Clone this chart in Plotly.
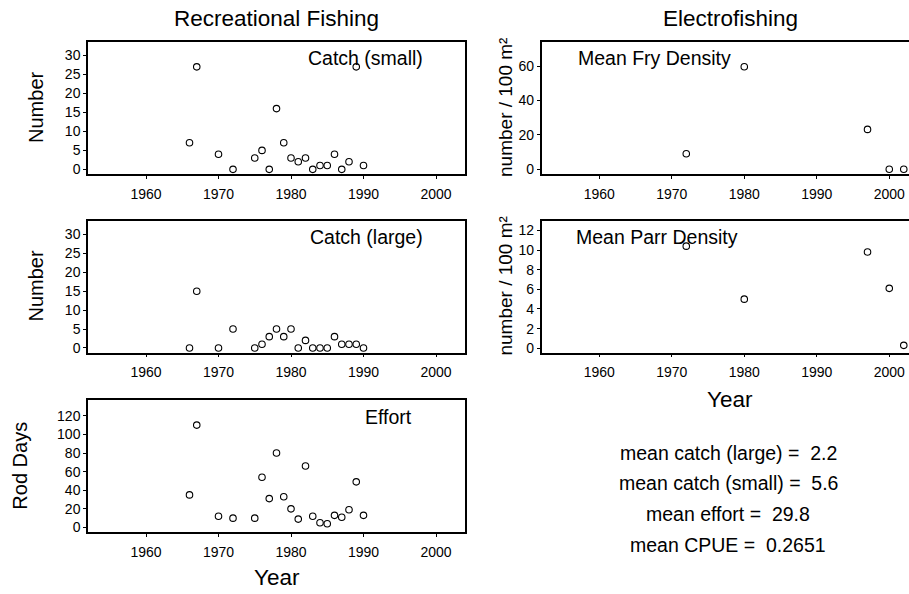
import plotly.graph_objects as go

# Recreational fishing records
years = [1966, 1967, 1970, 1972, 1975, 1976, 1977, 1978, 1979, 1980,
         1981, 1982, 1983, 1984, 1985, 1986, 1987, 1988, 1989, 1990]
catch_small = [7, 27, 4, 0, 3, 5, 0, 16, 7, 3, 2, 3, 0, 1, 1, 4, 0, 2, 27, 1]
catch_large = [0, 15, 0, 5, 0, 1, 3, 5, 3, 5, 0, 2, 0, 0, 0, 3, 1, 1, 1, 0]
effort = [35, 110, 12, 10, 10, 54, 31, 80, 33, 20, 9, 66, 12, 5, 4, 13, 11, 19, 49, 13]

# Electrofishing surveys
ef_years = [1972, 1980, 1997, 2000, 2002]
fry_density = [9.0, 59.7, 23.2, 0.0, 0.0]
parr_density = [10.4, 5.0, 9.8, 6.1, 0.3]

# Summary statistics
summary_lines = [
    "mean catch (large) =  2.2",
    "mean catch (small) =  5.6",
    "mean effort =  29.8",
    "mean CPUE =  0.2651",
]

year_ticks = [1960, 1970, 1980, 1990, 2000]

W, H = 909, 594
FONT = "Liberation Sans, Arial, sans-serif"


def px(x):
    return x / W


def py(y):
    return 1 - y / H


fig = go.Figure()

panels = [
    # (x, y, xaxis, yaxis)
    (years, catch_small, "x", "y"),
    (years, catch_large, "x2", "y2"),
    (years, effort, "x3", "y3"),
    (ef_years, fry_density, "x4", "y4"),
    (ef_years, parr_density, "x5", "y5"),
]
for xs, ys, xa, ya in panels:
    fig.add_trace(go.Scatter(
        x=xs, y=ys, xaxis=xa, yaxis=ya, mode="markers",
        marker=dict(symbol="circle-open", size=6.5, color="black",
                    line=dict(width=1.1, color="black")),
        showlegend=False, hoverinfo="x+y",
    ))

left_dom = [px(88), px(465)]
right_dom = [px(541.7), 1.0]
rows = [[py(175), py(42)], [py(354.5), py(222)], [py(535), py(401.7)]]

axis_common = dict(
    showgrid=False, zeroline=False, showline=True, linecolor="black",
    linewidth=1.5, ticks="outside", ticklen=3, tickwidth=1, tickcolor="black",
    tickfont=dict(family=FONT, size=14, color="black"),
)


def xaxis(dom, anchor, rng, mirror):
    return dict(axis_common, domain=dom, anchor=anchor, range=rng,
                tickvals=year_ticks, mirror=mirror, ticklabelstandoff=3)


def yaxis(dom, anchor, rng, tickvals, mirror):
    return dict(axis_common, domain=dom, anchor=anchor, range=rng,
                tickvals=tickvals, mirror=mirror, ticklabelstandoff=0)


left_x = [1952.0, 2004.0]
right_x = [1952.06, 1952.06 + (909 - 541.7) / 7.25]

fig.update_layout(
    xaxis=xaxis(left_dom, "y", left_x, True),
    yaxis=yaxis(rows[0], "x", [-1.25, 33.6], list(range(0, 31, 5)), True),
    xaxis2=xaxis(left_dom, "y2", left_x, True),
    yaxis2=yaxis(rows[1], "x2", [-1.25, 33.6], list(range(0, 31, 5)), True),
    xaxis3=xaxis(left_dom, "y3", left_x, True),
    yaxis3=yaxis(rows[2], "x3", [-5.2, 137.3], list(range(0, 121, 20)), True),
    xaxis4=xaxis(right_dom, "y4", right_x, True),
    yaxis4=yaxis(rows[0], "x4", [-2.86, 74.26], [0, 20, 40, 60], False),
    xaxis5=xaxis(right_dom, "y5", right_x, True),
    yaxis5=yaxis(rows[1], "x5", [-0.45, 12.97], list(range(0, 13, 2)), False),
)

annotations = []


def text(s, x, y, size, xanchor="center", angle=0):
    annotations.append(dict(
        text=s, x=px(x), y=py(y), xref="paper", yref="paper",
        xanchor=xanchor, yanchor="middle", showarrow=False, textangle=angle,
        font=dict(family=FONT, size=size, color="black"),
    ))


# Column headings
text("Recreational Fishing", 276.5, 19, 22.5)
text("Electrofishing", 730.5, 19, 22.5)

# Panel captions
text("Catch (small)", 425, 58, 19.5, "right")
text("Catch (large)", 425, 238, 19.5, "right")
text("Effort", 414, 419, 19.5, "right")
text("Mean Fry Density", 576, 58, 19.5, "left")
text("Mean Parr Density", 574, 238, 19.5, "left")

# Axis titles
text("Number", 36, 108.5, 20, angle=-90)
text("Number", 36, 288, 20, angle=-90)
text("Rod Days", 20, 468, 20, angle=-90)
text("number / 100 m²", 506, 108.5, 19, angle=-90)
text("number / 100 m²", 506, 288, 19, angle=-90)
text("Year", 276.7, 580, 22.5)
text("Year", 729.5, 401.5, 22.5)

# Summary statistics block
for i, line in enumerate(summary_lines):
    text(line, 728, 455 + i * 30.9, 19.5)

fig.update_layout(
    width=W, height=H, margin=dict(l=0, r=0, t=0, b=0),
    paper_bgcolor="white", plot_bgcolor="white",
    annotations=annotations, showlegend=False,
)

fig.write_html("out.html")
